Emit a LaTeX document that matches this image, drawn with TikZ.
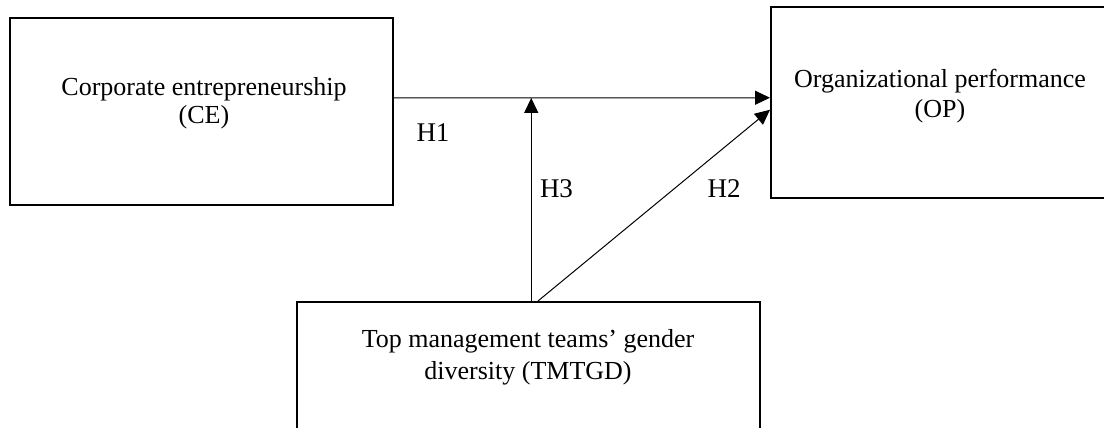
\documentclass[tikz,border=0pt]{standalone}
\usepackage{fontspec}
\setmainfont{Liberation Serif}
\usetikzlibrary{arrows.meta}
\tikzset{
  varbox/.style={draw, line width=2pt, inner sep=0pt},
  vartext/.style={align=center, inner sep=0pt, anchor=north, font=\fontsize{26}{30}\selectfont},
  hyp/.style={inner sep=0pt, font=\fontsize{27}{30}\selectfont},
  arr/.style={line width=1pt, -{Triangle[length=15pt,width=14pt]}}
}
\begin{document}
\begin{tikzpicture}[x=1pt, y=-1pt]
            \useasboundingbox (0,0) rectangle (1104,428);
            \clip (0,0) rectangle (1104,428);
            % Boxes with manual coordinates
            \node[varbox, minimum width=383pt, minimum height=187pt] (ce) at (201.5,111.5) {};
            \node[varbox, minimum width=338pt, minimum height=190.5pt] (op) at (940,102.75) {};
            \node[varbox, minimum width=463pt, minimum height=180pt] (tm) at (528.5,392) {};

            % Box texts
            \node[vartext, font=\fontsize{26}{27.5}\selectfont] (cetext) at (204,77.5) {Corporate entrepreneurship\\(CE)};
            \node[vartext] (optext) at (940,69) {Organizational performance\\(OP)};
            \node[vartext, font=\fontsize{26}{32}\selectfont] (tmtext) at (528,329) {Top management teams’ gender\\diversity (TMTGD)};

            % Hypothesis labels
            \node[hyp] (h1) at (433,132.5) {H1};
            \node[hyp] (h3) at (556.5,188.5) {H3};
            \node[hyp] (h2) at (724,188.5) {H2};

            % Edges
            \draw[arr] ([yshift=13.5pt]ce.east) -- coordinate[pos=0.365] (mod) ([yshift=5pt]op.west);
            \draw[arr] (tm.north -| mod) -- (mod);
            \draw[arr] ([xshift=9.5pt]tm.north) -- ([yshift=-7pt]op.west);
\end{tikzpicture}
\end{document}
